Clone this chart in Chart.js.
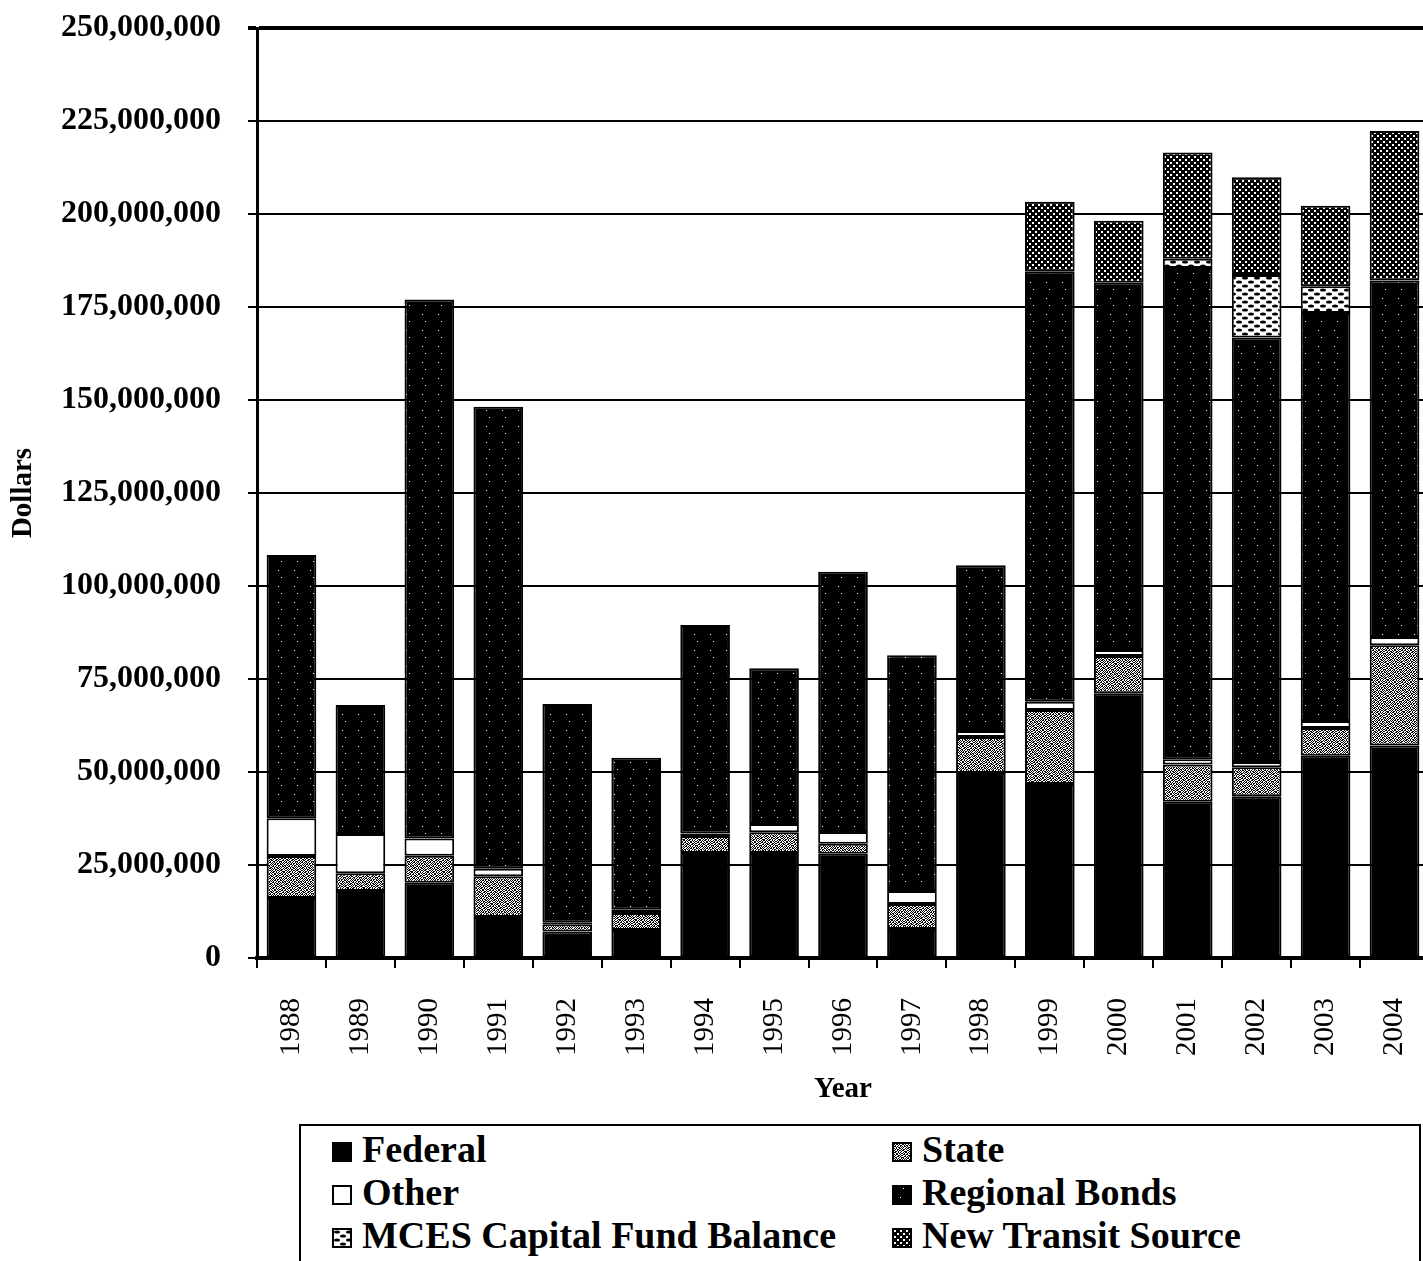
<!DOCTYPE html>
<html>
<head>
<meta charset="utf-8">
<title>Capital Funding Sources, 1988–2004</title>
<script src="https://cdn.jsdelivr.net/npm/chart.js@4.4.1/dist/chart.umd.min.js"></script>
<style>
  html, body { margin: 0; padding: 0; background: #fff; overflow: hidden; }
  #wrap { position: absolute; left: 0; top: 0; width: 1440px; height: 1107px; }
  #legend {
    position: absolute; left: 299px; top: 1124px; width: 1122px; height: 170px;
    border: 2px solid #000; box-sizing: border-box; padding: 2px 0 0 31px;
    font-family: "Liberation Serif", "Times New Roman", serif; font-weight: bold;
    font-size: 38px; line-height: 43px; color: #000;
    display: grid; grid-template-columns: 560px 500px; align-content: start;
  }
  #legend .item { white-space: nowrap; height: 43px; }
  #legend .sw {
    display: inline-block; width: 16px; height: 16px; border: 2px solid #000;
    margin-right: 10px; vertical-align: baseline; background-repeat: repeat;
  }
</style>
</head>
<body>
<div id="wrap"><canvas id="chart" width="1440" height="1107"></canvas></div>
<div id="legend"></div>
<script>
// Funding by year, in millions of dollars
const years = ['1988','1989','1990','1991','1992','1993','1994','1995','1996','1997','1998','1999','2000','2001','2002','2003','2004'];
const federal      = [16.1, 18.0, 20.2, 11.0,  7.1,  7.5, 28.2, 28.2, 28.0,  7.8, 49.7, 46.8, 71.2, 42.0, 43.5, 54.4, 57.1];
const state        = [11.3,  4.8,  7.3, 11.0,  2.0,  4.6,  4.6,  5.6,  2.7,  6.7,  9.7, 19.9, 10.0, 10.0,  7.8,  7.4, 27.0];
const other        = [10.2, 10.5,  4.6,  2.0,  0.4,  1.0,  0.7,  2.2,  3.2,  3.5,  1.6,  2.2,  1.6,  1.4,  1.4,  1.9,  2.2];
const regionalBonds= [70.7, 34.7,144.9,124.2, 58.8, 40.7, 56.0, 41.9, 69.9, 63.4, 44.6,115.6, 98.7,132.1,114.1,109.7, 95.8];
const mcesBalance  = [ 0,    0,    0,    0,    0,    0,    0,    0,    0,    0,    0,    0,    0,    2.5, 16.8,  7.2,  0  ];
const newTransit   = [ 0,    0,    0,    0,    0,    0,    0,    0,    0,    0,    0,   18.8, 16.7, 28.5, 26.3, 21.6, 40.2];
const yTicks = [0, 25e6, 50e6, 75e6, 100e6, 125e6, 150e6, 175e6, 200e6, 225e6, 250e6];
const MILLION = 1e6;

// Fill tiles for the printed-style patterns
function makeTile(w, h, draw) {
  const c = document.createElement('canvas');
  c.width = w; c.height = h;
  const g = c.getContext('2d');
  draw(g, w, h);
  return c;
}
function bitTile(rows, on, off) {
  return makeTile(rows[0].length, rows.length, (g) => {
    rows.forEach((r, y) => {
      for (let x = 0; x < r.length; x++) {
        g.fillStyle = r[x] === '1' ? on : off;
        g.fillRect(x, y, 1, 1);
      }
    });
  });
}
const tiles = {
  federal: makeTile(4, 4, (g, w, h) => { g.fillStyle = '#000'; g.fillRect(0, 0, w, h); }),
  state: bitTile([
    '1011010011010010', '0100101100101101', '1101001010110100', '0010110101001011',
    '1010011010010110', '0101100101101001', '1001011011000110', '0110100100111001',
    '1100101001011010', '0011010110100101', '1011001001101100', '0100110110010011',
    '1001101000110101', '0110010111001010', '1010100101010110', '0101011010101001'
  ], '#000', '#fff'),
  other: makeTile(4, 4, (g, w, h) => { g.fillStyle = '#fff'; g.fillRect(0, 0, w, h); }),
  regional: bitTile([
    '0000000000000000', '0000000001000000', '0000000000000000', '0000000000000000',
    '0000000000000000', '0000000000000000', '0000000000000000', '0000000000000000',
    '0000000000000000', '0000000000000000', '0000001000000000', '0000000000000000',
    '0000000000000000', '0000000000000000', '0000000000000000', '0000000000000000'
  ], '#fff', '#000'),
  mces: makeTile(12, 8, (g, w, h) => {
    g.fillStyle = '#fff'; g.fillRect(0, 0, w, h);
    g.fillStyle = '#000';
    [[3, 2], [9, 6], [15, 2], [-3, 6]].forEach(([cx, cy]) => {
      g.beginPath(); g.ellipse(cx, cy, 3, 1.6, 0, 0, Math.PI * 2); g.fill();
    });
  }),
  transit: bitTile([
    '110000', '110000', '000000', '000110', '000110', '000000'
  ], '#fff', '#000')
};
const ctx = document.getElementById('chart').getContext('2d');
const pat = (t) => ctx.createPattern(t, 'repeat');

const seriesDefs = [
  { label: 'Federal', values: federal, tile: 'federal' },
  { label: 'State', values: state, tile: 'state' },
  { label: 'Other', values: other, tile: 'other' },
  { label: 'Regional Bonds', values: regionalBonds, tile: 'regional' },
  { label: 'MCES Capital Fund Balance', values: mcesBalance, tile: 'mces' },
  { label: 'New Transit Source', values: newTransit, tile: 'transit' }
];

const serif = '"Liberation Serif", "Times New Roman", serif';

// Keep the plot area fixed by the layout padding alone
function noScalePadding(s) {
  s.paddingTop = 0; s.paddingBottom = 0; s.paddingLeft = 0; s.paddingRight = 0;
}

new Chart(ctx, {
  type: 'bar',
  data: {
    labels: years,
    datasets: seriesDefs.map(s => ({
      label: s.label,
      data: s.values.map(v => v * MILLION),
      backgroundColor: pat(tiles[s.tile]),
      borderColor: '#000',
      borderWidth: 2,
      borderSkipped: false,
      categoryPercentage: 1.0,
      barPercentage: 0.72
    }))
  },
  options: {
    responsive: false,
    animation: false,
    devicePixelRatio: 1,
    layout: { padding: { top: 28, right: 11, bottom: 0, left: 0 } },
    plugins: { legend: { display: false }, tooltip: { enabled: false } },
    scales: {
      x: {
        stacked: true,
        grid: { display: true, drawOnChartArea: false, drawTicks: true, tickLength: 10, color: '#000', lineWidth: 2, offset: true },
        border: { display: true, color: '#000', width: 4 },
        ticks: {
          autoSkip: false, minRotation: 90, maxRotation: 90, padding: 30,
          color: '#000', font: { family: serif, size: 29 }
        },
        title: {
          display: true, text: 'Year', color: '#000',
          font: { family: serif, size: 29, weight: 'bold' }, padding: { top: 0, bottom: 0 }
        },
        afterFit: (s) => { s.height = 149; noScalePadding(s); }
      },
      y: {
        stacked: true,
        min: 0, max: 250e6,
        afterBuildTicks: (s) => { s.ticks = yTicks.map(v => ({ value: v })); },
        grid: {
          color: '#000', tickLength: 9,
          lineWidth: (c) => (c.tick && c.tick.value === 250e6 ? 4 : 2)
        },
        border: { display: true, color: '#000', width: 3 },
        ticks: {
          padding: 27, color: '#000',
          font: { family: serif, size: 32, weight: 'bold' },
          callback: (v) => Number(v).toLocaleString('en-US')
        },
        title: {
          display: true, text: 'Dollars', color: '#000',
          font: { family: serif, size: 29, weight: 'bold' }, padding: { top: 6, bottom: 0 }
        },
        afterFit: (s) => { s.width = 257; noScalePadding(s); }
      }
    }
  }
});

// Legend: two columns, row by row
const legendEl = document.getElementById('legend');
seriesDefs.forEach(s => {
  const item = document.createElement('div');
  item.className = 'item';
  const sw = document.createElement('span');
  sw.className = 'sw';
  sw.style.backgroundImage = 'url(' + tiles[s.tile].toDataURL() + ')';
  item.appendChild(sw);
  item.appendChild(document.createTextNode(s.label));
  legendEl.appendChild(item);
});
</script>
</body>
</html>
